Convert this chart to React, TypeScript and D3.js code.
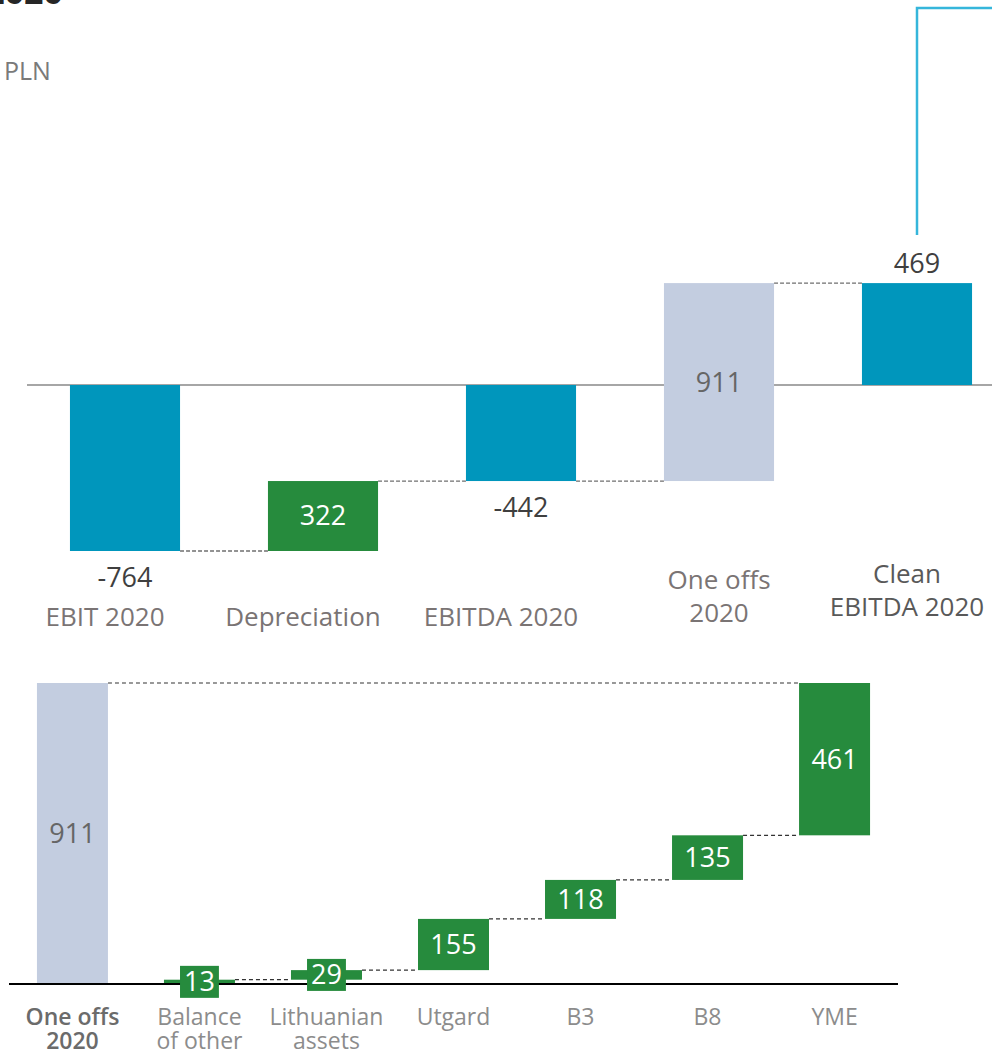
import * as d3 from "d3";
import React, {useEffect, useRef} from "react";

// upper waterfall: EBIT -> clean EBITDA (mln PLN)
const topCategories = ["EBIT 2020", "Depreciation", "EBITDA 2020", "One offs\n2020", "Clean\nEBITDA 2020"];
const topValues = [-764, 322, -442, 911, 469];
const topKinds = ["total", "change", "total", "oneoffs", "total"];

// lower waterfall: breakdown of the one offs
const bottomCategories = ["One offs\n2020", "Balance\nof other", "Lithuanian\nassets", "Utgard", "B3", "B8", "YME"];
const bottomValues = [911, 13, 29, 155, 118, 135, 461];
const bottomKinds = ["oneoffs", "change", "change", "change", "change", "change", "change"];

const colors = {total: "#0096bc", change: "#268b3d", oneoffs: "#c3cde0"};
const FONT = "'Open Sans', 'Noto Sans', sans-serif";

const App = () => {
    const ref = useRef(null);

    useEffect(() => {
        const svg = d3.select(ref.current);
        svg.selectAll("*").remove();

        // cut off title + unit
        svg.append("text")
            .attr("x", 63).attr("y", 4)
            .attr("text-anchor", "end")
            .attr("font-family", FONT).attr("font-weight", 700).attr("font-size", 34)
            .attr("fill", "#262626")
            .text("2020");
        svg.append("text")
            .attr("x", 4).attr("y", 80)
            .attr("font-family", FONT).attr("font-size", 25)
            .attr("fill", "#7a7a7a")
            .text("PLN");

        // ---------- top chart ----------
        const x1 = d3.scaleBand().domain(topCategories).range([26, 1016]).paddingInner(0.444).paddingOuter(0.222);
        const y1 = d3.scaleLinear().domain([-764, 0]).range([551, 385]);

        let run = 0;
        const topBars = topValues.map((v, i) => {
            const kind = topKinds[i];
            let from, to;
            if (kind === "total") { from = 0; to = v; run = v; }
            else { from = run; to = run + v; run = to; }
            return {cat: topCategories[i], kind, v, from, to};
        });

        // callout line to the right
        svg.append("path")
            .attr("d", `M${x1(topCategories[4]) + x1.bandwidth() / 2},235V8H992`)
            .attr("fill", "none").attr("stroke", "#35b6db").attr("stroke-width", 2.5);

        svg.append("line")
            .attr("x1", 27).attr("x2", 992).attr("y1", y1(0)).attr("y2", y1(0))
            .attr("stroke", "#a6a6a6").attr("stroke-width", 2);

        const gTop = svg.append("g");
        topBars.forEach((d, i) => {
            if (i < topBars.length - 1) {
                gTop.append("line")
                    .attr("x1", x1(d.cat) + x1.bandwidth()).attr("x2", x1(topBars[i + 1].cat))
                    .attr("y1", y1(d.to)).attr("y2", y1(d.to))
                    .attr("stroke", "#6f6f6f").attr("stroke-width", 1.3).attr("stroke-dasharray", "4,2");
            }
        });
        gTop.selectAll("rect").data(topBars).join("rect")
            .attr("x", d => x1(d.cat))
            .attr("width", x1.bandwidth())
            .attr("y", d => y1(Math.max(d.from, d.to)))
            .attr("height", d => Math.abs(y1(d.from) - y1(d.to)))
            .attr("fill", d => colors[d.kind]);

        topBars.forEach(d => {
            const cx = x1(d.cat) + x1.bandwidth() / 2;
            const top = y1(Math.max(d.from, d.to)), bot = y1(Math.min(d.from, d.to));
            const t = gTop.append("text")
                .attr("x", cx).attr("text-anchor", "middle")
                .attr("font-family", FONT).attr("font-size", 27)
                .text(d.v);
            if (d.kind === "total") {
                t.attr("fill", "#3f3f3f").attr("y", d.v < 0 ? bot + 36 : top - 10);
            } else {
                t.attr("fill", d.kind === "change" ? "#fff" : "#666")
                    .attr("y", (top + bot) / 2).attr("dy", "0.35em");
            }
            // category labels sit a little left of the bar centre in the original slide
            const lines = d.cat.split("\n");
            const last = d.cat.startsWith("Clean");
            const dx = lines.length === 1 ? -20 : (last ? -10 : 0);
            lines.forEach((ln, k) => {
                gTop.append("text")
                    .attr("x", cx + dx).attr("text-anchor", "middle")
                    .attr("y", lines.length === 1 ? 626 : 589 + k * 33 - (last ? 6 : 0))
                    .attr("font-family", FONT).attr("font-size", 26)
                    .attr("fill", last ? "#595959" : "#7a7474")
                    .text(ln);
            });
        });

        // ---------- bottom chart ----------
        const x2 = d3.scaleBand().domain(bottomCategories).range([9, 898]).paddingInner(0.441).paddingOuter(0.22);
        const y2 = d3.scaleLinear().domain([0, 911]).range([984, 683]);

        let acc = 0;
        const botBars = bottomValues.map((v, i) => {
            const kind = bottomKinds[i];
            let from, to;
            if (kind === "oneoffs") { from = 0; to = v; }
            else { from = acc; to = acc + v; acc = to; }
            return {cat: bottomCategories[i], kind, v, from, to};
        });

        const gBot = svg.append("g");
        // connector from total top to the last piece
        gBot.append("line")
            .attr("x1", x2(botBars[0].cat) + x2.bandwidth()).attr("x2", x2(botBars[botBars.length - 1].cat))
            .attr("y1", y2(botBars[0].to)).attr("y2", y2(botBars[0].to))
            .attr("stroke", "#333").attr("stroke-width", 1.2).attr("stroke-dasharray", "4,3");
        for (let i = 1; i < botBars.length - 1; i++) {
            gBot.append("line")
                .attr("x1", x2(botBars[i].cat) + x2.bandwidth()).attr("x2", x2(botBars[i + 1].cat))
                .attr("y1", y2(botBars[i].to)).attr("y2", y2(botBars[i].to))
                .attr("stroke", "#333").attr("stroke-width", 1.2).attr("stroke-dasharray", "4,3");
        }
        gBot.selectAll("rect.bar").data(botBars).join("rect")
            .attr("class", "bar")
            .attr("x", d => x2(d.cat))
            .attr("width", x2.bandwidth())
            .attr("y", d => y2(d.to))
            .attr("height", d => y2(d.from) - y2(d.to))
            .attr("fill", d => colors[d.kind]);

        gBot.append("line")
            .attr("x1", 9).attr("x2", 898).attr("y1", y2(0)).attr("y2", y2(0))
            .attr("stroke", "#000").attr("stroke-width", 2);

        botBars.forEach((d, i) => {
            const cx = x2(d.cat) + x2.bandwidth() / 2;
            const cy = (y2(d.from) + y2(d.to)) / 2;
            const small = y2(d.from) - y2(d.to) < 30;
            const t = gBot.append("text")
                .attr("x", cx).attr("y", cy).attr("dy", "0.35em")
                .attr("text-anchor", "middle")
                .attr("font-family", FONT).attr("font-size", 27)
                .attr("fill", d.kind === "oneoffs" ? "#666" : "#fff")
                .text(d.v);
            if (small) {
                const bb = t.node().getBBox();
                gBot.insert("rect", () => t.node())
                    .attr("x", cx - bb.width / 2 - 4).attr("width", bb.width + 8)
                    .attr("y", cy - 16).attr("height", 32)
                    .attr("fill", colors.change);
            }
            const lines = d.cat.split("\n");
            lines.forEach((ln, k) => {
                gBot.append("text")
                    .attr("x", cx).attr("y", 1025 + k * 24)
                    .attr("text-anchor", "middle")
                    .attr("font-family", FONT).attr("font-size", 23)
                    .attr("font-weight", i === 0 ? 600 : 400)
                    .attr("fill", i === 0 ? "#6b6b6b" : "#8c8c8c")
                    .text(ln);
            });
        });
    }, []);

    return (
        <svg ref={ref} width={992} height={1054}
             style={{position: "absolute", left: 0, top: 0, background: "#fff"}}/>
    );
};

export default App;
